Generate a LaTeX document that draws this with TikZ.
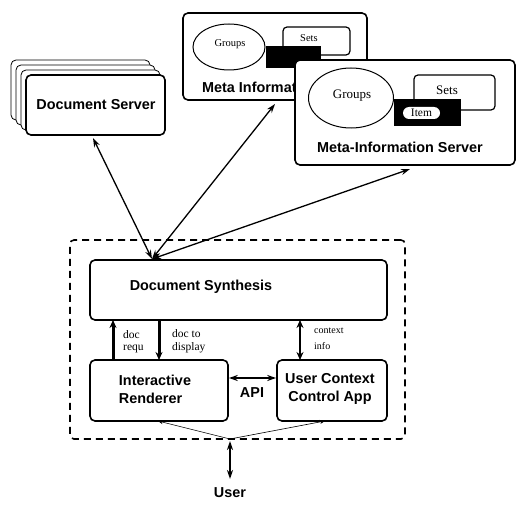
\documentclass[tikz,border=0pt]{standalone}
\usepackage{fontspec}
\setmainfont{Liberation Serif}
\setsansfont{Liberation Sans}
\usetikzlibrary{arrows.meta,shapes.geometric}
\tikzset{
  box/.style={draw, line width=1.6pt, rounded corners=5pt, fill=white, inner sep=0pt},
  layer/.style={draw, line width=0.8pt, rounded corners=5pt, fill=white, inner sep=0pt,
    minimum width=139pt, minimum height=60pt},
  oval/.style={draw, ellipse, line width=1pt, fill=white, inner sep=0pt},
  title/.style={font=\sffamily\bfseries\fontsize{14.4}{18}\selectfont, inner sep=0pt},
  small/.style={font=\fontsize{11.5}{14.5}\selectfont, inner sep=0pt},
  link/.style={line width=1.3pt, {Stealth[length=9pt,width=6pt]}-{Stealth[length=9pt,width=6pt]}},
  flow/.style={line width=3pt, -{Stealth[length=8pt,width=7pt]}},
}
\begin{document}
\begin{tikzpicture}[x=1pt,y=-1pt]
\useasboundingbox (0,0) rectangle (531,511);
% document server stack
\node[layer] (ds3) at (80.5,90){};
\node[layer] (ds2) at (85.5,95){};
\node[layer] (ds1) at (90.5,100){};
\node[box, minimum width=139pt, minimum height=60pt] (ds0) at (95.5,105){};
\node[title] (dstext) at (96,105){Document Server};
% meta-information server, back copy
\node[box, minimum width=184pt, minimum height=87pt] (mib) at (275,56.5){};
\node[oval, minimum width=72pt, minimum height=46pt] (grpb) at (229,47){};
\node[small, font=\fontsize{10.5}{12}\selectfont] (grpbtext) at (230,44){Groups};
\node[box, line width=1.2pt, rounded corners=4pt, minimum width=67pt, minimum height=28pt] (setb) at (316.5,41){};
\node[small, font=\fontsize{10.5}{12}\selectfont] (setbtext) at (309,38){Sets};
\node[fill=black, inner sep=0pt, minimum width=55pt, minimum height=22pt] (itemb) at (293.5,57){};
\node[title, anchor=west] (mibtext) at (202,87){Meta Information};
% meta-information server, front copy
\node[box, minimum width=220pt, minimum height=105pt] (mif) at (405,112.5){};
\node[oval, minimum width=85pt, minimum height=60pt] (grpf) at (351,98){};
\node[small, font=\fontsize{13}{15}\selectfont] (grpftext) at (352,96){Groups};
\node[box, line width=1.2pt, rounded corners=4pt, minimum width=81pt, minimum height=35pt] (setf) at (454.5,92.5){};
\node[small, font=\fontsize{13}{15}\selectfont] (setftext) at (447,90){Sets};
\node[fill=black, inner sep=0pt, minimum width=67pt, minimum height=27pt] (itemf) at (427.5,112.5){};
\node[fill=white, rounded corners=6pt, inner sep=0pt, minimum width=37pt, minimum height=12pt] (itemw) at (421.5,113){};
\node[small] (itemtext) at (421.5,113){Item};
\node[title] (miftext) at (400,147){Meta-Information Server};
% client side
\node[draw, dash pattern=on 7pt off 5pt, line width=1.6pt, rounded corners=4pt,
  minimum width=335pt, minimum height=199pt] (client) at (237.5,339.5){};
\node[box, minimum width=297pt, minimum height=60pt] (synth) at (238.5,290){};
\node[title] (synthtext) at (201,287){Document Synthesis};
\node[box, minimum width=138pt, minimum height=61pt] (rend) at (159,390.5){};
\node[title, align=left] (rendtext) at (155,389){Interactive\\Renderer};
\node[box, minimum width=110pt, minimum height=61pt] (ctx) at (332,390.5){};
\node[title, align=center] (ctxtext) at (330,389){User Context\\Control App};
\node[title] (apitext) at (252,393){API};
\node[title] (user) at (230,493){User};
% links to the servers
\coordinate (hub) at (152,259);
\coordinate (dsend) at (93,138);
\coordinate (mibend) at (275,104);
\coordinate (mifend) at (410,169);
\draw[link] (hub) -- (dsend);
\draw[link] (hub) -- (mibend);
\draw[link] (hub) -- (mifend);
% inner flows
\draw[flow] (113,360) -- (113,320);
\draw[flow] (159,320) -- (159,360);
\draw[line width=2pt, {Stealth[length=8pt,width=7pt]}-{Stealth[length=8pt,width=7pt]}] (300,320) -- (300,360);
\draw[link, line width=1.5pt] (rend.east |- 0,378) -- (ctx.west |- 0,378);
\node[small, anchor=west] (docreq) at (123,335){doc};
\node[small, anchor=west] (docreq2) at (123,349){requ};
\node[small, anchor=west] (docdisp) at (172,334){doc to};
\node[small, anchor=west] (docdisp2) at (172,348){display};
\node[small, anchor=west, font=\fontsize{10}{12}\selectfont] (ctxinfo) at (314,331){context};
\node[small, anchor=west, font=\fontsize{10}{12}\selectfont] (ctxinfo2) at (314,346){info};
% user
\coordinate (uin) at (230,439);
\draw[line width=0.6pt, -{Stealth[length=5pt,width=4pt]}] (uin) -- (158,421);
\draw[line width=0.6pt, -{Stealth[length=5pt,width=4pt]}] (uin) -- (325,421);
\draw[link, line width=2pt] (230,441) -- (user.north |- 0,479);
\end{tikzpicture}
\end{document}
